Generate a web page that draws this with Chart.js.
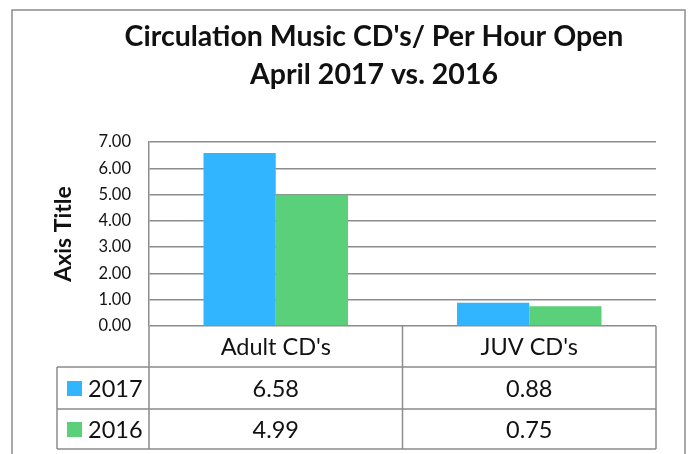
<!DOCTYPE html>
<html>
<head>
<meta charset="utf-8">
<script src="https://cdn.jsdelivr.net/npm/chart.js@4"></script>
<style>
  html, body { margin: 0; padding: 0; background: #fff; }
  #wrap { width: 691px; height: 454px; }
</style>
</head>
<body>
<div id="wrap"><canvas id="grafico" width="691" height="454"></canvas></div>
<script>
// -------------------- DADOS --------------------
const categorias = ["Adult CD's", "JUV CD's"];
const serieNomes = ['2017', '2016'];
const valores2017 = [6.58, 0.88];
const valores2016 = [4.99, 0.75];
const tituloLinhas = ["Circulation Music CD's/ Per Hour Open", 'April 2017 vs. 2016'];
const eixoY = { min: 0, max: 7, passo: 1, titulo: 'Axis Title' };

const CORES = ['#31b5fe', '#5bd07a'];
const LINHA = '#8c8c8c';
const TEXTO = '#111';
const FONTE = 'Lato, "Open Sans", sans-serif';

// -------------------- MOLDURA, TITULO E TABELA --------------------
const tabelaPlugin = {
  id: 'tabelaDados',
  beforeDraw(chart) {
    const { ctx } = chart;
    ctx.save();
    ctx.fillStyle = '#fff';
    ctx.fillRect(0, 0, chart.width, chart.height);
    ctx.strokeStyle = LINHA;
    ctx.lineWidth = 1.5;
    ctx.strokeRect(12, 10, 673, 480);

    ctx.fillStyle = TEXTO;
    ctx.font = 'bold 28.5px ' + FONTE;
    ctx.textAlign = 'center';
    ctx.textBaseline = 'middle';
    tituloLinhas.forEach((t, i) => ctx.fillText(t, 374, 37 + i * 38));
    ctx.restore();
  },
  afterDraw(chart) {
    const { ctx, chartArea } = chart;
    const x = chart.scales.x;
    const topo = chartArea.bottom;
    const linhas = [topo, topo + 41, topo + 83, topo + 123];
    const esq = chartArea.left - 92;
    const meio = (x.getPixelForValue(0) + x.getPixelForValue(1)) / 2;

    ctx.save();
    ctx.strokeStyle = LINHA;
    ctx.lineWidth = 1.5;
    ctx.beginPath();
    for (let i = 1; i < linhas.length; i++) {
      ctx.moveTo(esq, linhas[i]);
      ctx.lineTo(chartArea.right, linhas[i]);
    }
    ctx.moveTo(esq, linhas[1]);
    ctx.lineTo(esq, linhas[3]);
    [chartArea.left, meio, chartArea.right].forEach(px => {
      ctx.moveTo(px, linhas[0]);
      ctx.lineTo(px, linhas[3]);
    });
    ctx.stroke();

    ctx.font = '23.5px ' + FONTE;
    ctx.textBaseline = 'middle';
    const series = [valores2017, valores2016];
    series.forEach((valores, r) => {
      const yc = (linhas[r + 1] + linhas[r + 2]) / 2;
      ctx.fillStyle = CORES[r];
      ctx.fillRect(esq + 10, yc - 7, 15, 15);
      ctx.fillStyle = TEXTO;
      ctx.textAlign = 'left';
      ctx.fillText(serieNomes[r], esq + 31, yc + 1);
      ctx.textAlign = 'center';
      valores.forEach((v, c) => {
        ctx.fillText(v.toFixed(2), x.getPixelForValue(c), yc + 1);
      });
    });
    ctx.restore();
  }
};

// -------------------- GRAFICO --------------------
new Chart(document.getElementById('grafico'), {
  type: 'bar',
  data: {
    labels: categorias,
    datasets: [
      { label: serieNomes[0], data: valores2017, backgroundColor: CORES[0] },
      { label: serieNomes[1], data: valores2016, backgroundColor: CORES[1] }
    ]
  },
  options: {
    responsive: false,
    animation: false,
    layout: { padding: { top: 142, left: 0, right: 35, bottom: 0 } },
    datasets: { bar: { categoryPercentage: 0.57, barPercentage: 1.0 } },
    plugins: {
      legend: { display: false },
      title: { display: false },
      tooltip: { enabled: false }
    },
    scales: {
      x: {
        afterFit: s => { s.height = 128; },
        grid: { display: false, drawTicks: false },
        border: { display: false },
        ticks: {
          color: TEXTO,
          padding: 7,
          font: { family: FONTE, size: 23.5 }
        }
      },
      y: {
        min: eixoY.min,
        max: eixoY.max,
        afterFit: s => { s.width = 149; },
        border: { color: LINHA, width: 1.5 },
        grid: { color: LINHA, lineWidth: 1.5, drawTicks: false },
        ticks: {
          stepSize: eixoY.passo,
          padding: 18,
          color: TEXTO,
          font: { family: FONTE, size: 16.5 },
          callback: v => v.toFixed(2)
        },
        title: {
          display: true,
          text: eixoY.titulo,
          color: TEXTO,
          font: { family: FONTE, size: 23, weight: 'bold' },
          padding: { top: 50, bottom: 0 }
        }
      }
    }
  },
  plugins: [tabelaPlugin]
});
</script>
</body>
</html>
